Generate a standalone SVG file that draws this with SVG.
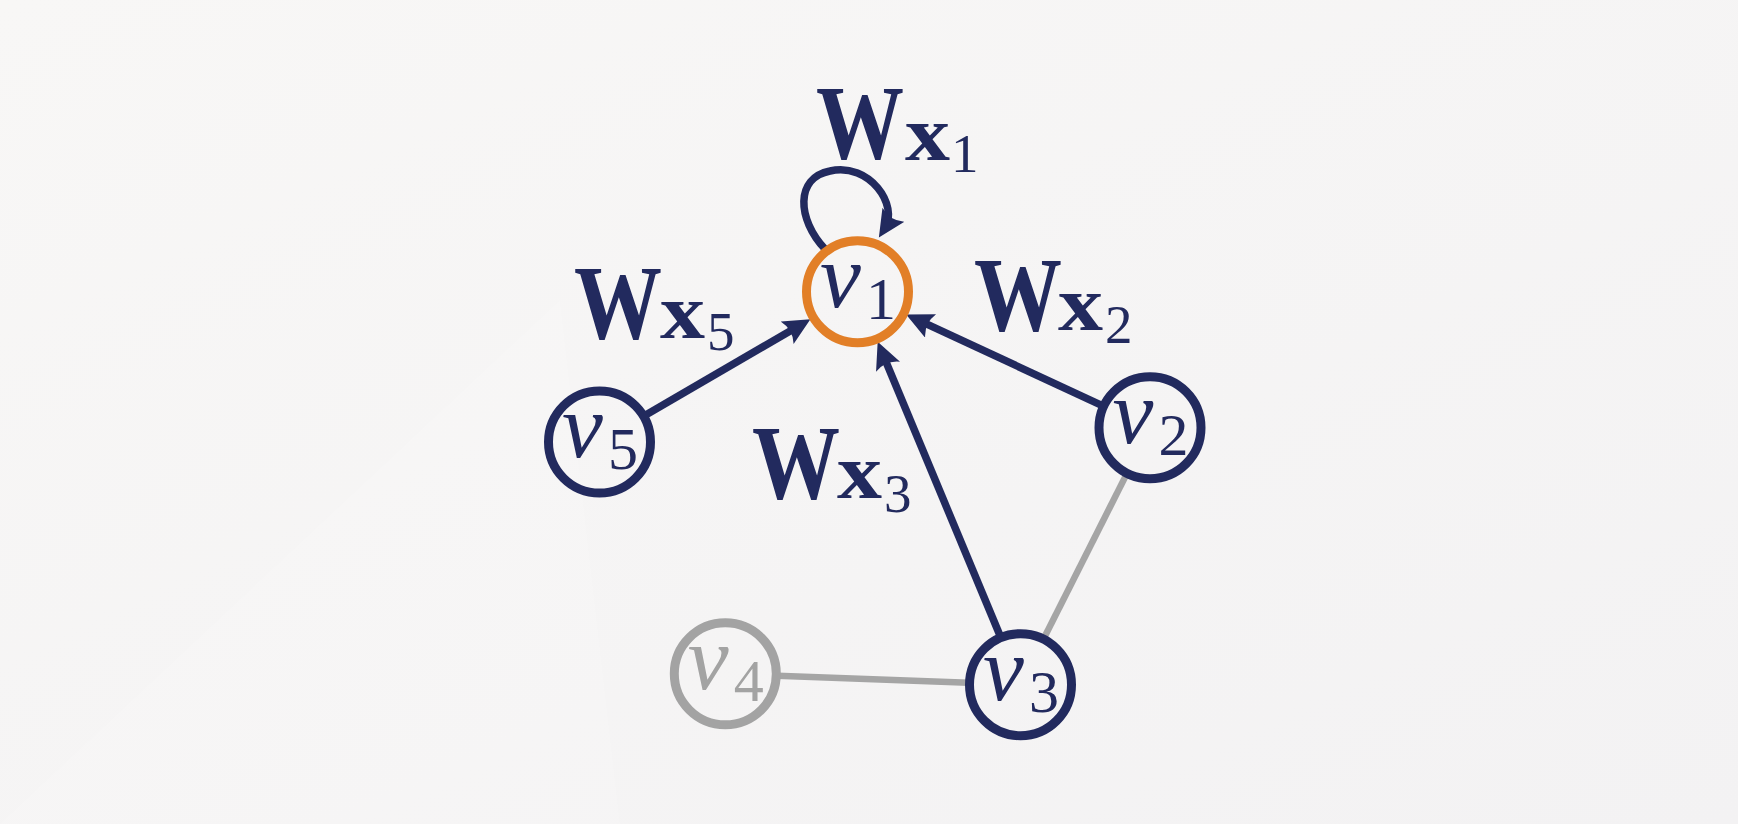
<svg xmlns="http://www.w3.org/2000/svg" width="1738" height="824" viewBox="0 0 1738 824">
<defs>
<linearGradient id="bg" x1="0" y1="0" x2="1" y2="1">
<stop offset="0" stop-color="#f8f7f6"/>
<stop offset="1" stop-color="#f3f2f3"/>
</linearGradient>
<marker id="arr" markerUnits="userSpaceOnUse" markerWidth="32" markerHeight="32" refX="16" refY="13" orient="auto">
<path d="M27,13 L0,0 Q7,13 0,26 Z" fill="#222a5e"/>
</marker>
<style>
.nv{fill:none;stroke:#222a5e;stroke-width:9}
.ng{fill:none;stroke:#a3a3a3;stroke-width:9}
.no{fill:none;stroke:#e27f27;stroke-width:9}
.ev{fill:none;stroke:#222a5e;stroke-width:7.5;marker-end:url(#arr)}
.eg{fill:none;stroke:#a5a5a5;stroke-width:6.5}
.lbl{font-family:"Liberation Serif",serif;fill:#222a5e}
.lv{font-style:italic;font-size:92px}
.ld{font-size:60px;font-style:normal}
.gray{fill:#a3a3a3}
.W{font-weight:bold;font-size:106px}
.X{font-weight:bold;font-size:79px}
.D{font-size:55px;font-weight:normal}
</style>
</defs>
<rect width="1738" height="824" fill="url(#bg)"/>
<polygon points="0,824 560,300 620,824" fill="#ffffff" opacity="0.12"/>

<g id="connectors">
<line class="eg" x1="777.3" y1="675.7" x2="968.5" y2="682.8"/>
<line class="eg" x1="1126.6" y1="474.1" x2="1043.9" y2="638.3"/>
<line class="ev" x1="644.4" y1="415.8" x2="800.9" y2="324.7"/>
<line class="ev" x1="1102.8" y1="405.8" x2="916.1" y2="319.2"/>
<line class="ev" x1="1000.5" y1="636.7" x2="881.9" y2="352.0"/>
<path class="ev" d="M825,249 C797,219 795,178 830,171 C870,162 899,206 884.8,228.2"/>
</g>

<g id="v1">
<circle class="no" cx="857.5" cy="291.7" r="51"/>
<text class="lbl"><tspan class="lv" x="820" y="307">v</tspan><tspan class="ld" x="866" y="319">1</tspan></text>
</g>
<g id="v2">
<circle class="nv" cx="1150" cy="427.7" r="51"/>
<text class="lbl"><tspan class="lv" x="1112.5" y="443">v</tspan><tspan class="ld" x="1158.5" y="455">2</tspan></text>
</g>
<g id="v3">
<circle class="nv" cx="1020.5" cy="684.7" r="51"/>
<text class="lbl"><tspan class="lv" x="983" y="700">v</tspan><tspan class="ld" x="1029" y="712">3</tspan></text>
</g>
<g id="v4">
<circle class="ng" cx="725.3" cy="673.8" r="51"/>
<text class="lbl gray"><tspan class="lv" x="687.8" y="689">v</tspan><tspan class="ld" x="733.8" y="701">4</tspan></text>
</g>
<g id="v5">
<circle class="nv" cx="599.5" cy="442" r="51"/>
<text class="lbl"><tspan class="lv" x="562" y="457">v</tspan><tspan class="ld" x="608" y="469">5</tspan></text>
</g>

<g id="label-wx1">
<text class="lbl"><tspan class="W" x="816" y="158" textLength="88" lengthAdjust="spacingAndGlyphs">W</tspan><tspan class="X" x="905" y="160" textLength="45" lengthAdjust="spacingAndGlyphs">x</tspan><tspan class="D" x="951" y="172">1</tspan></text>
</g>
<g id="label-wx2">
<text class="lbl"><tspan class="W" x="974" y="330" textLength="88" lengthAdjust="spacingAndGlyphs">W</tspan><tspan class="X" x="1058" y="330" textLength="45" lengthAdjust="spacingAndGlyphs">x</tspan><tspan class="D" x="1105" y="343">2</tspan></text>
</g>
<g id="label-wx3">
<text class="lbl"><tspan class="W" x="752" y="498" textLength="88" lengthAdjust="spacingAndGlyphs">W</tspan><tspan class="X" x="837" y="498" textLength="45" lengthAdjust="spacingAndGlyphs">x</tspan><tspan class="D" x="884" y="512">3</tspan></text>
</g>
<g id="label-wx5">
<text class="lbl"><tspan class="W" x="574" y="338" textLength="88" lengthAdjust="spacingAndGlyphs">W</tspan><tspan class="X" x="660" y="338" textLength="45" lengthAdjust="spacingAndGlyphs">x</tspan><tspan class="D" x="707" y="350">5</tspan></text>
</g>
</svg>
